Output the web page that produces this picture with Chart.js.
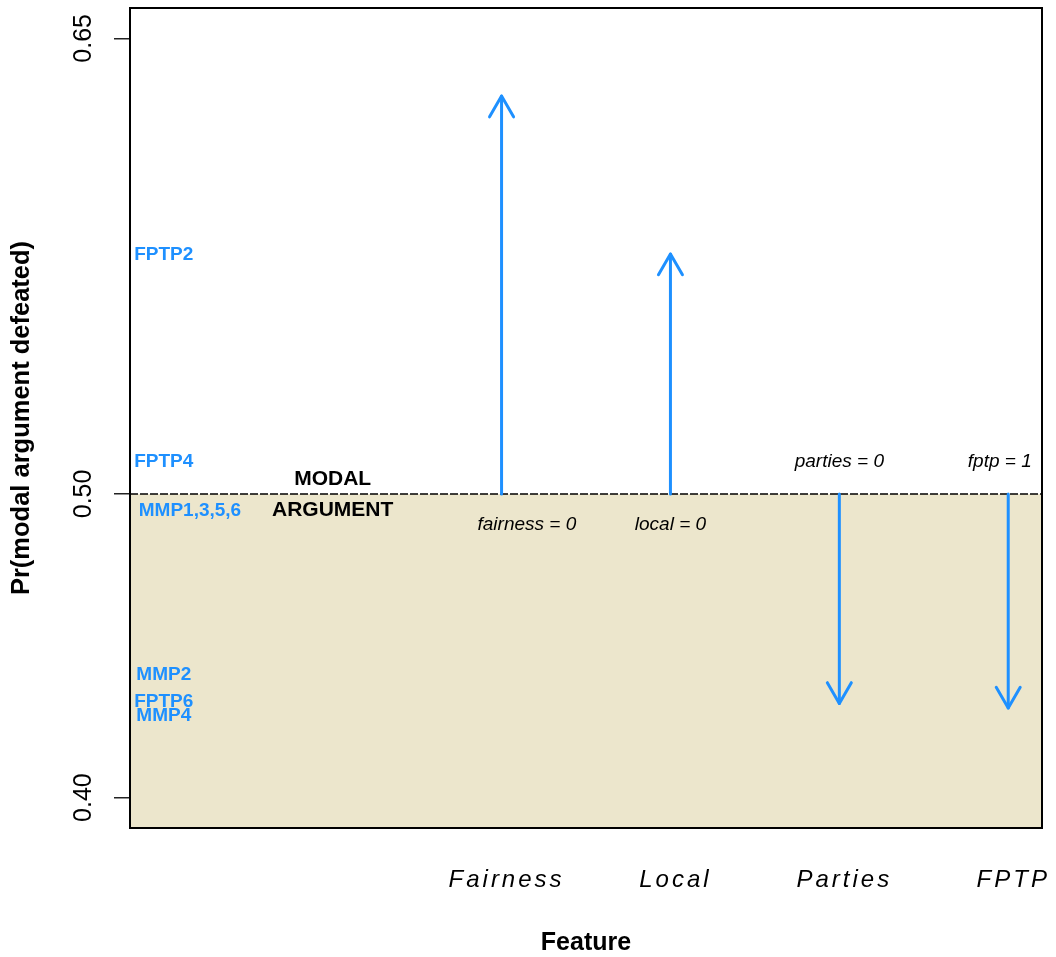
<!DOCTYPE html>
<html>
<head>
<meta charset="utf-8">
<script src="https://cdn.jsdelivr.net/npm/chart.js@4.4.1/dist/chart.umd.min.js"></script>
<style>
  html, body { margin: 0; padding: 0; background: #ffffff; }
  #wrap { width: 1056px; height: 957px; position: relative; }
</style>
</head>
<body>
<div id="wrap"><canvas id="chart" width="1056" height="957"></canvas></div>
<script>
// Features and the probability that the modal argument is defeated when each is switched
const features = ['Fairness', 'Local', 'Parties', 'FPTP'];
const featureX = [3, 4, 5, 6];
const featureEffect = [0.631, 0.579, 0.431, 0.4295];
const modalValue = 0.5;

// Setting of each feature that produces the change
const settingLabels = ['fairness = 0', 'local = 0', 'parties = 0', 'fptp = 1'];
const settingX = [3.15, 4.0, 5.0, 5.95];
const settingY = [0.4898, 0.4898, 0.5107, 0.5107];

// Individual cases placed on the probability scale
const caseNames = ['FPTP2', 'FPTP4', 'MMP1,3,5,6', 'MMP2', 'FPTP6', 'MMP4'];
const caseX = [1, 1, 1.155, 1, 1, 1];
const caseY = [0.5788, 0.5107, 0.4944, 0.4404, 0.4317, 0.427];

// Label for the modal argument line
const modalText = ['MODAL', 'ARGUMENT'];
const modalTextX = 2;
const modalTextY = [0.505, 0.4945];

// Axes
const yTicks = [0.40, 0.50, 0.65];
const xRange = [0.8, 6.2];
const yRange = [0.39, 0.66];

const BLUE = '#1E90FF';
const BEIGE = '#ECE6CC';
const FONT = '"Liberation Sans", Arial, Helvetica, sans-serif';

const datasets = [];
featureX.forEach((x, i) => {
  datasets.push({
    label: features[i],
    data: [{ x: x, y: modalValue }, { x: x, y: featureEffect[i] }],
    borderColor: BLUE,
    borderWidth: 3,
    borderCapStyle: 'round',
    pointRadius: 0,
    fill: false,
    order: 0
  });
});
// Region below the modal argument, with its dashed reference line
datasets.push({
  label: 'modal',
  data: [{ x: xRange[0], y: modalValue }, { x: xRange[1], y: modalValue }],
  borderColor: '#000000',
  borderWidth: 1.5,
  borderDash: [8, 2],
  backgroundColor: BEIGE,
  fill: 'start',
  pointRadius: 0,
  order: 10
});

const decorations = {
  id: 'decorations',
  afterDatasetsDraw(chart) {
    const ctx = chart.ctx;
    const xs = chart.scales.x, ys = chart.scales.y;

    // Arrow heads at the end of each shaft
    chart.data.datasets.forEach((ds, di) => {
      if (ds.label === 'modal') return;
      const pts = chart.getDatasetMeta(di).data;
      const a = pts[0], b = pts[1];
      const ang = Math.atan2(b.y - a.y, b.x - a.x);
      const len = 24, spread = Math.PI / 6;
      ctx.save();
      ctx.strokeStyle = BLUE;
      ctx.lineWidth = 3;
      ctx.lineCap = 'round';
      ctx.lineJoin = 'round';
      ctx.beginPath();
      ctx.moveTo(b.x - len * Math.cos(ang - spread), b.y - len * Math.sin(ang - spread));
      ctx.lineTo(b.x, b.y);
      ctx.lineTo(b.x - len * Math.cos(ang + spread), b.y - len * Math.sin(ang + spread));
      ctx.stroke();
      ctx.restore();
    });

    ctx.save();
    ctx.textAlign = 'center';
    ctx.textBaseline = 'middle';

    // Case labels
    ctx.fillStyle = BLUE;
    ctx.font = 'bold 19px ' + FONT;
    caseNames.forEach((n, i) => {
      ctx.fillText(n, xs.getPixelForValue(caseX[i]), ys.getPixelForValue(caseY[i]));
    });

    // Modal argument label
    ctx.fillStyle = '#000000';
    ctx.font = 'bold 21px ' + FONT;
    modalText.forEach((t, i) => {
      ctx.fillText(t, xs.getPixelForValue(modalTextX), ys.getPixelForValue(modalTextY[i]));
    });

    // Feature settings
    ctx.font = 'italic 19px ' + FONT;
    settingLabels.forEach((t, i) => {
      ctx.fillText(t, xs.getPixelForValue(settingX[i]), ys.getPixelForValue(settingY[i]));
    });
    ctx.restore();
  },
  afterDraw(chart) {
    const ctx = chart.ctx;
    const area = chart.chartArea;
    const xs = chart.scales.x, ys = chart.scales.y;

    // Plot frame
    ctx.save();
    ctx.strokeStyle = '#000000';
    ctx.lineWidth = 2;
    ctx.strokeRect(area.left, area.top, area.right - area.left, area.bottom - area.top);

    // Y tick labels, rotated
    ctx.fillStyle = '#000000';
    ctx.font = '25px ' + FONT;
    ctx.textAlign = 'center';
    ctx.textBaseline = 'middle';
    ys.ticks.forEach(t => {
      const y = ys.getPixelForValue(t.value);
      ctx.save();
      ctx.translate(84.5, y);
      ctx.rotate(-Math.PI / 2);
      ctx.fillText(t.value.toFixed(2), 0, 0);
      ctx.restore();
    });

    // X tick labels
    ctx.font = 'italic 24px ' + FONT;
    ctx.letterSpacing = '3px';
    xs.ticks.forEach((t, i) => {
      ctx.fillText(features[i], xs.getPixelForValue(t.value) + 5, 880);
    });
    ctx.letterSpacing = '0px';

    // Axis titles
    ctx.font = 'bold 25px ' + FONT;
    ctx.fillText('Feature', (area.left + area.right) / 2, 943);
    ctx.save();
    ctx.translate(22, (area.top + area.bottom) / 2);
    ctx.rotate(-Math.PI / 2);
    ctx.font = 'bold 25.5px ' + FONT;
    ctx.fillText('Pr(modal argument defeated)', 0, 0);
    ctx.restore();
    ctx.restore();
  }
};

new Chart(document.getElementById('chart'), {
  type: 'line',
  data: { datasets: datasets },
  options: {
    responsive: false,
    animation: false,
    events: [],
    layout: { padding: { top: 8, right: 14, left: 0, bottom: 0 } },
    plugins: { legend: { display: false }, tooltip: { enabled: false } },
    scales: {
      x: {
        type: 'linear',
        min: xRange[0],
        max: xRange[1],
        afterBuildTicks: s => { s.ticks = featureX.map(v => ({ value: v })); },
        afterFit: s => { s.height = 129; },
        ticks: { display: false },
        grid: { display: false },
        border: { display: false }
      },
      y: {
        type: 'linear',
        min: yRange[0],
        max: yRange[1],
        afterBuildTicks: s => { s.ticks = yTicks.map(v => ({ value: v })); },
        afterFit: s => { s.width = 130; },
        ticks: { display: false },
        grid: { drawOnChartArea: false, drawTicks: true, tickLength: 16, color: '#222222', lineWidth: 1.5 },
        border: { display: false }
      }
    }
  },
  plugins: [decorations]
});
</script>
</body>
</html>
